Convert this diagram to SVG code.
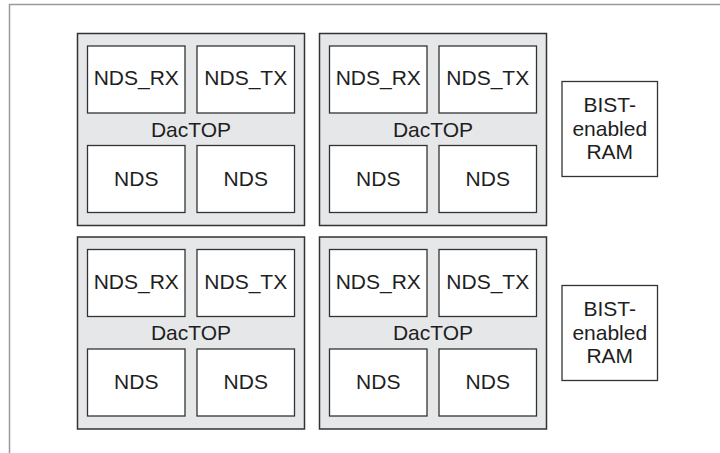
<svg xmlns="http://www.w3.org/2000/svg" width="720" height="453" viewBox="0 0 720 453">
<style>
.frame{fill:none;stroke:#9a9a9a;stroke-width:1.5}
.dac{fill:#e6e7e8;stroke:#333;stroke-width:1.5}
.box{fill:#fff;stroke:#333;stroke-width:1.3}
text{font-family:"Liberation Sans",Arial,sans-serif;font-size:21px;fill:#1e1e1e;text-anchor:middle}
</style>
<rect width="720" height="453" fill="#fff"/>
<path class="frame" d="M9.5,453 V4.5 H720"/>
<defs>
<g id="dactop">
<rect class="dac" x="0" y="0" width="227" height="192"/>
<rect class="box" x="10" y="12.5" width="97.5" height="67"/>
<rect class="box" x="119.5" y="12.5" width="97.5" height="67"/>
<rect class="box" x="10" y="112" width="97.5" height="67"/>
<rect class="box" x="119.5" y="112" width="97.5" height="67"/>
<text x="58.75" y="51.5">NDS_RX</text>
<text x="168.25" y="51.5">NDS_TX</text>
<text x="113.5" y="103">DacTOP</text>
<text x="58.75" y="152">NDS</text>
<text x="168.25" y="152">NDS</text>
</g>
<g id="bist">
<rect class="box" x="0" y="0" width="95.5" height="95"/>
<text x="47.75" y="30">BIST-</text>
<text x="47.75" y="54.5">enabled</text>
<text x="47.75" y="77.5">RAM</text>
</g>
</defs>
<g id="dactop1"><use href="#dactop" x="77.5" y="33.5"/></g>
<g id="dactop2"><use href="#dactop" x="319.5" y="33.5"/></g>
<g id="dactop3"><use href="#dactop" x="77.5" y="237"/></g>
<g id="dactop4"><use href="#dactop" x="319.5" y="237"/></g>
<g id="bist1"><use href="#bist" x="562" y="81.5"/></g>
<g id="bist2"><use href="#bist" x="562" y="285.5"/></g>
<g id="connectors"></g>
</svg>
